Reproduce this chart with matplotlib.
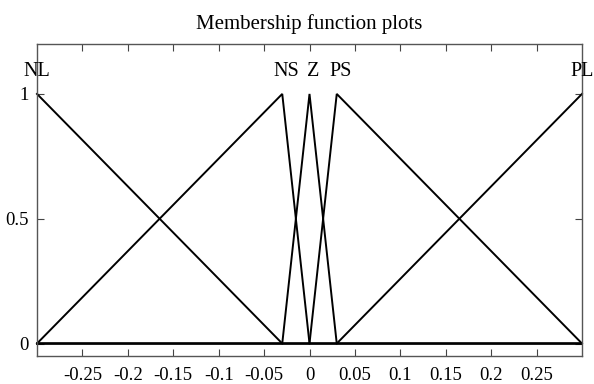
import numpy as np
import matplotlib
matplotlib.use("Agg")
import matplotlib.pyplot as plt
from matplotlib.transforms import offset_copy

# Data
mf_names = ["NL", "NS", "Z", "PS", "PL"]
mf_params = [
    [-0.57, -0.30, -0.03],
    [-0.30, -0.03, 0.00],
    [-0.03, 0.00, 0.03],
    [0.00, 0.03, 0.30],
    [0.03, 0.30, 0.57],
]
x_range = [-0.3, 0.3]
x_ticks = [-0.25, -0.2, -0.15, -0.1, -0.05, 0, 0.05, 0.1, 0.15, 0.2, 0.25]
x_ticklabels = ["-0.25", "-0.2", "-0.15", "-0.1", "-0.05", "0", "0.05", "0.1", "0.15", "0.2", "0.25"]
y_ticks = [0, 0.5, 1]
y_ticklabels = ["0", "0.5", "1"]
title = "Membership function plots"

plt.rcParams["font.family"] = ["Liberation Serif", "DejaVu Serif"]

def trimf(x, a, b, c):
    x = np.asarray(x, dtype=float)
    y = np.zeros_like(x)
    left = (x > a) & (x <= b)
    right = (x > b) & (x < c)
    if b > a:
        y[left] = (x[left] - a) / (b - a)
    if c > b:
        y[right] = (c - x[right]) / (c - b)
    y[x == b] = 1.0
    return y

fig = plt.figure(figsize=(5.94, 3.84), dpi=100)
ax = fig.add_axes([37 / 594, 1 - 356 / 384, (582 - 37) / 594, (356 - 44) / 384])

for name, (a, b, c) in zip(mf_names, mf_params):
    pts = sorted(set([x_range[0], x_range[1]] + [p for p in (a, b, c) if x_range[0] <= p <= x_range[1]]))
    xs = np.array(pts)
    ys = trimf(xs, a, b, c)
    ax.plot(xs, ys, color="black", lw=1.4, clip_on=False, solid_joinstyle="miter")
    interior = x_range[0] < b < x_range[1]
    tr = offset_copy(ax.transData, fig=fig, x=4 if interior else 0, y=0, units="dots")
    ax.text(b, 1.09, name, ha="center", va="center", fontsize=14.5, color="black", transform=tr)

ax.set_xlim(x_range)
ax.set_ylim(-0.05, 1.2)
ax.set_xticks(x_ticks)
ax.set_xticklabels(x_ticklabels)
ax.set_yticks(y_ticks)
ax.set_yticklabels(y_ticklabels)
ax.tick_params(direction="in", length=5, width=0.8, color="#444444", labelsize=13.5,
               top=True, right=True)
ax.tick_params(axis="x", pad=8)
ax.tick_params(axis="y", pad=6)
for s in ax.spines.values():
    s.set_color("#555555")
    s.set_linewidth(1.0)

fig.text((37 + 582) / 2 / 594, 1 - 24 / 384, title, ha="center", va="center", fontsize=15)

fig.savefig("out.png", dpi=100)
